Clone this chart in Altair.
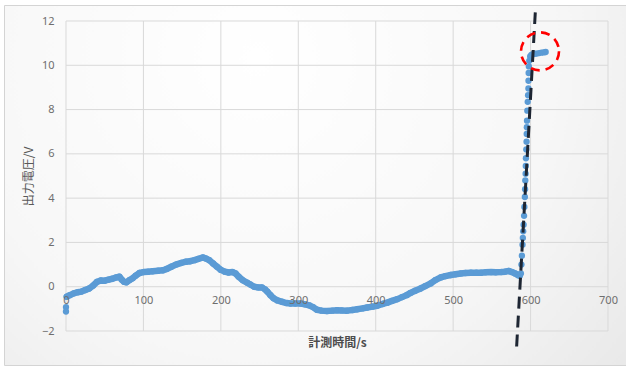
import altair as alt
import pandas as pd

# Measured output voltage over time
time_s = [
    0, 0, 1, 5, 10, 15, 20, 25, 30, 35, 40, 45, 50, 55, 60, 65, 69, 72, 75, 78,
    82, 86, 90, 95, 100, 106, 112, 119, 125, 130, 136, 142, 149, 155, 160, 166,
    171, 177, 181, 185, 190, 195, 200, 205, 210, 215, 219, 223, 228, 234, 238,
    243, 248, 253, 257, 260, 264, 268, 273, 279, 285, 290, 296, 303, 309, 314,
    319, 324, 330, 337, 344, 350, 356, 363, 370, 376, 383, 389, 396, 402, 409,
    415, 421, 428, 434, 440, 445, 451, 458, 464, 471, 477, 484, 490, 497, 503,
    510, 516, 523, 530, 536, 542, 549, 555, 562, 567, 572, 576, 580, 584, 586,
    587.5, 588.2, 588.8, 589.6, 590.0, 590.5, 591.0, 591.6, 592.0, 592.6, 592.9,
    593.2, 593.6, 593.8, 594.0, 594.5, 594.8, 595.0, 595.2, 595.4, 595.8, 596.3,
    596.8, 597.2, 597.3, 597.5, 597.8, 598.3, 599.5, 601, 603, 605.5, 608, 611,
    614, 617, 619.5,
]
voltage_v = [
    -0.92, -1.12, -0.45, -0.38, -0.3, -0.25, -0.22, -0.15, -0.08, 0.05, 0.22,
    0.28, 0.27, 0.32, 0.36, 0.42, 0.45, 0.32, 0.22, 0.2, 0.3, 0.38, 0.5, 0.62,
    0.66, 0.68, 0.7, 0.72, 0.74, 0.8, 0.9, 1.0, 1.08, 1.13, 1.15, 1.2, 1.26,
    1.32, 1.27, 1.2, 1.05, 0.9, 0.76, 0.68, 0.64, 0.66, 0.6, 0.45, 0.3, 0.18,
    0.1, 0.0, -0.03, -0.03, -0.12, -0.22, -0.38, -0.52, -0.62, -0.68, -0.74,
    -0.76, -0.76, -0.76, -0.8, -0.84, -0.92, -1.04, -1.08, -1.1, -1.08, -1.06,
    -1.07, -1.08, -1.05, -1.02, -0.98, -0.94, -0.9, -0.86, -0.78, -0.72, -0.64,
    -0.56, -0.47, -0.38, -0.28, -0.18, -0.08, 0.03, 0.15, 0.3, 0.42, 0.48, 0.53,
    0.56, 0.6, 0.62, 0.63, 0.63, 0.63, 0.65, 0.66, 0.65, 0.66, 0.68, 0.71, 0.66,
    0.6, 0.52, 0.5,
    0.6, 1.0, 1.4, 1.9, 2.2, 2.5, 2.8, 3.2, 3.6, 4.05, 4.4, 4.8, 5.1, 5.45, 5.8,
    6.2, 6.55, 6.9, 7.2, 7.5, 7.95, 8.35, 8.65, 8.95, 9.3, 9.65, 9.95, 10.2,
    10.4, 10.47, 10.5, 10.52, 10.53, 10.55, 10.57, 10.58, 10.6,
]

# Steep-rise guide line and highlighted saturation region
fit_time = [582.0, 606.1]
fit_voltage = [-2.7, 12.39]
mark_time = [612.2]
mark_voltage = [10.63]

x_ticks = [0, 100, 200, 300, 400, 500, 600, 700]
y_ticks = [-2, 0, 2, 4, 6, 8, 10, 12]

X_TITLE = "計測時間/s"
Y_TITLE = "出力電圧/V"
BLUE = "#5b9bd5"
GRID = "#d9d9d9"

x_scale = alt.Scale(domain=[0, 700], nice=False, zero=False)
y_scale = alt.Scale(domain=[-2, 12], nice=False, zero=False)

x_axis = alt.Axis(
    values=x_ticks, orient="bottom", offset=-44.3, domain=False, ticks=False,
    grid=False, labelPadding=8, labelFlush=False, labelOverlap=False,
    titleX=271, titleY=56, titleAlign="center", titleBaseline="middle",
    titleFontWeight="bold", titleColor="#4d4d4d", zindex=1,
)
y_axis = alt.Axis(
    values=y_ticks, domain=False, ticks=False, grid=False, labelPadding=12,
    labelFlush=False, labelOverlap=False, titleAngle=270, titleX=-38,
    titleY=155, titleAlign="center", titleBaseline="middle",
    titleFontWeight="normal", titleColor="#595959", zindex=1,
)


def xq():
    return alt.X("t:Q", scale=x_scale, axis=x_axis, title=X_TITLE)


def yq():
    return alt.Y("v:Q", scale=y_scale, axis=y_axis, title=Y_TITLE)


series = pd.DataFrame({"t": time_s, "v": voltage_v})
fit = pd.DataFrame({"t": fit_time, "v": fit_voltage})
spot = pd.DataFrame({"t": mark_time, "v": mark_voltage})
xgrid = pd.DataFrame({"t": x_ticks})
ygrid = pd.DataFrame({"v": y_ticks})

# Chart-area panel with a soft radial shading and thin frame
panel = alt.Chart(alt.Data(values=[{}])).mark_rect(
    fill={
        "gradient": "radial",
        "stops": [
            {"offset": 0, "color": "#ffffff"},
            {"offset": 0.55, "color": "#f7f7f7"},
            {"offset": 1, "color": "#e4e4e4"},
        ],
        "x1": 0.4, "y1": 0.3, "r1": 0,
        "x2": 0.4, "y2": 0.3, "r2": 0.85,
    },
    stroke="#d4d4d4", strokeWidth=1,
).encode(
    x=alt.value(-61.5), x2=alt.value(570), y=alt.value(-15.5), y2=alt.value(344.5)
)

vgrid = alt.Chart(xgrid).mark_rule(color=GRID, strokeWidth=1).encode(x=xq())
hgrid = alt.Chart(ygrid).mark_rule(color=GRID, strokeWidth=1).encode(y=yq())

band = alt.Chart(series).transform_filter(
    (alt.datum.t > 0.5) & (alt.datum.t < 587)
).mark_line(
    color=BLUE, strokeWidth=6.5, strokeCap="round", strokeJoin="round"
).encode(x=xq(), y=yq())

dots = alt.Chart(series).mark_circle(size=40, color=BLUE, opacity=1).encode(
    x=xq(), y=yq()
)

guide = alt.Chart(fit).mark_line(
    color="#1e2633", strokeWidth=3, strokeDash=[12, 7], clip=False
).encode(x=xq(), y=yq())

ring = alt.Chart(spot).mark_point(
    shape="circle", size=1444, filled=False, stroke="#ff0000",
    strokeWidth=2.6, strokeDash=[9, 6], opacity=1, clip=False,
).encode(x=xq(), y=yq())

chart = alt.layer(panel, vgrid, hgrid, band, dots, guide, ring).properties(
    width=542,
    height=310,
    autosize=alt.AutoSizeParams(type="none"),
    padding={"left": 66, "top": 21, "right": 18, "bottom": 37},
    background="#ffffff",
).configure_view(
    stroke=None
).configure_axis(
    labelFont="Noto Sans",
    labelFontSize=11,
    labelColor="#6e6e6e",
    titleFont="Noto Sans CJK JP",
    titleFontSize=12,
)

chart.save("out.html", embed_options={"renderer": "svg", "actions": False})
